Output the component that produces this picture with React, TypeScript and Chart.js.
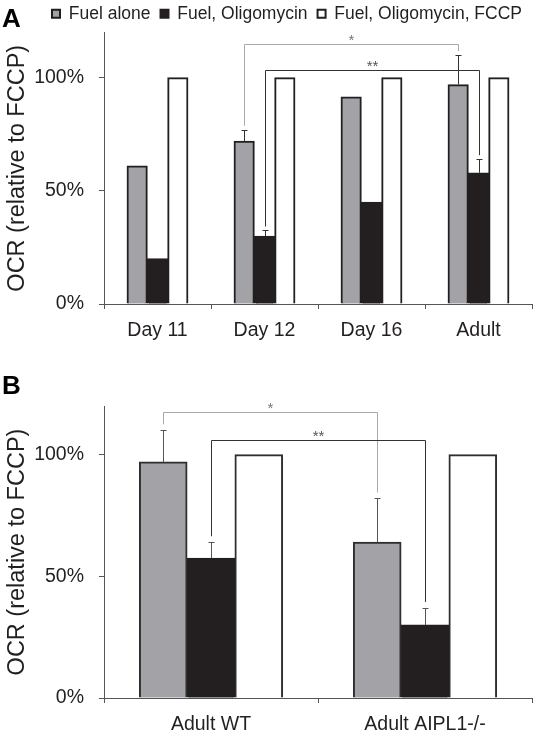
import React, { useEffect, useRef } from "react";
import { Chart, registerables } from "chart.js";
Chart.register(...registerables);

const FONT = '"Liberation Sans", Arial, Helvetica, sans-serif';

const seriesLabels = ["Fuel alone", "Fuel, Oligomycin", "Fuel, Oligomycin, FCCP"];

const categoriesA = ["Day 11", "Day 12", "Day 16", "Adult"];
const fuelAloneA = [61, 72, 91.5, 97];
const oligomycinA = [20, 30, 45, 58];
const fccpA = [100, 100, 100, 100];
const fuelAloneErrA = [0, 5, 0, 13];
const oligomycinErrA = [0, 2.5, 0, 6];
const fccpErrA = [0, 0, 0, 0];

const categoriesB = ["Adult WT", "Adult AIPL1-/-"];
const fuelAloneB = [97, 64];
const oligomycinB = [57.5, 30];
const fccpB = [100, 100];
const fuelAloneErrB = [13, 18];
const oligomycinErrB = [6.5, 7];
const fccpErrB = [0, 0];

const yTickValues = [0, 50, 100];
const yMax = 120;
const yTitle = "OCR (relative to FCCP)";

// significance brackets: endpoints as [categoryIndex, datasetIndex], level in %
const bracketsA = [
  { from: [1, 0], to: [3, 0], level: 115, label: "*" },
  { from: [1, 1], to: [3, 1], level: 103.5, label: "**" },
];
const bracketsB = [
  { from: [0, 0], to: [1, 0], level: 117.5, label: "*" },
  { from: [0, 1], to: [1, 1], level: 106, label: "**" },
];

const GRAY = "#a3a3a7";
const BLACK = "#231f20";
const INK = "#231f20";
const AXIS = "#555555";
const bracketColors = ["#a9a9a9", "#333333"];
const starColors = ["#777777", "#555555"];

function makeDatasets(a: number[], b: number[], c: number[], border: string) {
  const fills = [GRAY, BLACK, "#ffffff"];
  const borders = [border, BLACK, border];
  return [a, b, c].map((data, i) => ({
    label: seriesLabels[i],
    data,
    backgroundColor: fills[i],
    borderColor: borders[i],
    borderWidth: 2,
    inflateAmount: 0.4,
  }));
}

function annotationPlugin(
  panel: string,
  panelBaseline: number,
  errors: number[][],
  brackets: { from: number[]; to: number[]; level: number; label: string }[],
  legGap: number,
  errColor: string
) {
  return {
    id: "annot" + panel,
    afterDatasetsDraw(chart: any) {
      const ctx = chart.ctx as CanvasRenderingContext2D;
      const ys = chart.scales.y;
      const ds = chart.data.datasets;
      ctx.save();
      // error bars (upper only)
      errors.forEach((errs, di) => {
        const meta = chart.getDatasetMeta(di);
        errs.forEach((e, ci) => {
          if (!e) return;
          const bar = meta.data[ci];
          const v = ds[di].data[ci] as number;
          const yTop = Math.round(ys.getPixelForValue(v + e)) + 0.5;
          const x = Math.round(bar.x) + 0.5;
          ctx.strokeStyle = errColor;
          ctx.lineWidth = 1;
          ctx.beginPath();
          ctx.moveTo(x, bar.y);
          ctx.lineTo(x, yTop);
          ctx.moveTo(x - 3, yTop);
          ctx.lineTo(x + 3, yTop);
          ctx.stroke();
        });
      });
      // brackets
      brackets.forEach((br, bi) => {
        const endPix = (p: number[]) => {
          const [ci, di] = p;
          const bar = chart.getDatasetMeta(di).data[ci];
          const v = (ds[di].data[ci] as number) + (errors[di][ci] || 0);
          return { x: Math.round(bar.x) + 0.5, y: ys.getPixelForValue(v) - legGap };
        };
        const a = endPix(br.from);
        const b = endPix(br.to);
        const ly = Math.round(ys.getPixelForValue(br.level)) + 0.5;
        ctx.strokeStyle = bracketColors[bi];
        ctx.lineWidth = 1;
        ctx.beginPath();
        ctx.moveTo(a.x, a.y);
        ctx.lineTo(a.x, ly);
        ctx.lineTo(b.x, ly);
        ctx.lineTo(b.x, b.y);
        ctx.stroke();
        ctx.fillStyle = starColors[bi];
        ctx.font = `15px ${FONT}`;
        ctx.textAlign = "center";
        ctx.textBaseline = "middle";
        ctx.fillText(br.label, (a.x + b.x) / 2, ly - 4);
      });
      ctx.restore();
    },
    afterDraw(chart: any) {
      const ctx = chart.ctx as CanvasRenderingContext2D;
      ctx.save();
      ctx.fillStyle = "#000000";
      ctx.font = `bold 26px ${FONT}`;
      ctx.textAlign = "left";
      ctx.textBaseline = "alphabetic";
      ctx.fillText(panel, 2, panelBaseline);
      ctx.restore();
    },
  };
}

function makeOptions(showLegend: boolean, catPct: number, xHeight: number, padTop: number) {
  return {
    responsive: false,
    maintainAspectRatio: false,
    animation: false as const,
    layout: { padding: { top: padTop, right: 2, left: 0, bottom: 0 } },
    datasets: { bar: { barPercentage: 1, categoryPercentage: catPct } },
    plugins: {
      tooltip: { enabled: false },
      legend: {
        display: showLegend,
        position: "top" as const,
        align: "end" as const,
        labels: {
          boxWidth: 8,
          boxHeight: 8,
          padding: 10,
          color: INK,
          font: { size: 17.5, family: FONT },
        },
      },
    },
    scales: {
      x: {
        ticks: { color: INK, font: { size: 19.5, family: FONT }, padding: 10 },
        grid: { display: true, drawOnChartArea: false, drawTicks: true, tickLength: 5, color: AXIS, offset: true },
        border: { display: true, color: AXIS, width: 1 },
        afterFit: (s: any) => {
          s.height = xHeight;
        },
      },
      y: {
        min: 0,
        max: yMax,
        afterBuildTicks: (s: any) => {
          s.ticks = yTickValues.map((v) => ({ value: v }));
        },
        ticks: {
          color: INK,
          font: { size: 19.5, family: FONT },
          padding: 15,
          callback: (v: any) => v + "%",
        },
        grid: { display: true, drawOnChartArea: false, drawTicks: true, tickLength: 5, color: AXIS },
        border: { display: true, color: AXIS, width: 1 },
        title: {
          display: true,
          text: yTitle,
          color: INK,
          font: { size: 23.5, family: FONT },
          padding: { top: 3, bottom: 0 },
        },
        afterFit: (s: any) => {
          s.width = 104;
        },
      },
    },
  };
}

export default function App() {
  const refA = useRef<HTMLCanvasElement>(null);
  const refB = useRef<HTMLCanvasElement>(null);

  useEffect(() => {
    const chartA = new Chart(refA.current as HTMLCanvasElement, {
      type: "bar",
      data: { labels: categoriesA, datasets: makeDatasets(fuelAloneA, oligomycinA, fccpA, "#231f20") as any },
      options: makeOptions(true, 0.57, 56, 0) as any,
      plugins: [
        annotationPlugin("A", 32, [fuelAloneErrA, oligomycinErrA, fccpErrA], bracketsA, 4, "#333333") as any,
      ],
    });
    const chartB = new Chart(refB.current as HTMLCanvasElement, {
      type: "bar",
      data: { labels: categoriesB, datasets: makeDatasets(fuelAloneB, oligomycinB, fccpB, "#2e2e2e") as any },
      options: makeOptions(false, 0.67, 37, 46) as any,
      plugins: [
        annotationPlugin("B", 34, [fuelAloneErrB, oligomycinErrB, fccpErrB], bracketsB, 6, "#555555") as any,
      ],
    });
    return () => {
      chartA.destroy();
      chartB.destroy();
    };
  }, []);

  return (
    <div style={{ position: "absolute", left: 0, top: 0, width: 534, height: 735, overflow: "hidden", background: "#fff" }}>
      <canvas
        ref={refA}
        width={534}
        height={365}
        style={{ position: "absolute", left: 0, top: -5, width: 534, height: 365 }}
      />
      <canvas
        ref={refB}
        width={534}
        height={375}
        style={{ position: "absolute", left: 0, top: 360, width: 534, height: 375 }}
      />
    </div>
  );
}
